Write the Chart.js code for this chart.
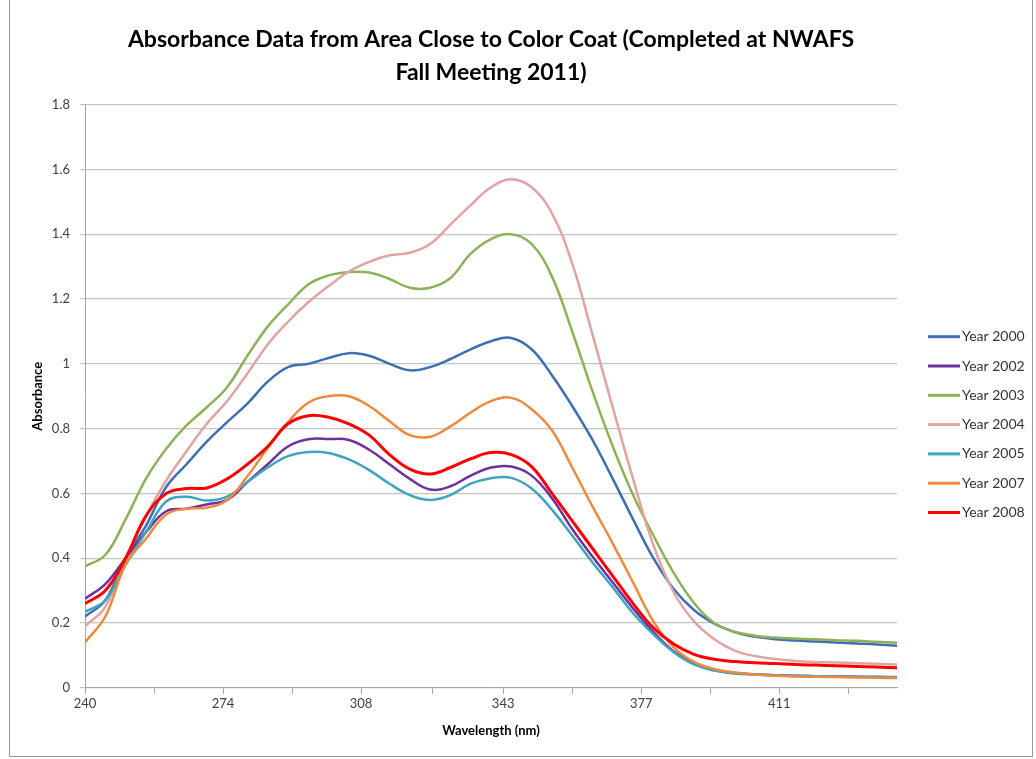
<!DOCTYPE html>
<html lang="en">
<head>
    <meta charset="UTF-8">
    <title>Absorbance Data</title>
    <style>
        body {
            margin: 0;
            background: #fff;
        }
        #frame {
            position: absolute;
            left: 9px;
            top: -2px;
            width: 1022px;
            height: 757px;
            border: 1px solid #9a9a9a;
        }
        #chart-container {
            position: absolute;
            left: 0;
            top: 0;
            width: 1036px;
            height: 759px;
        }
    </style>
    <script src="https://cdn.jsdelivr.net/npm/chart.js"></script>
</head>
<body>
    <div id="frame"></div>
    <div id="chart-container">
        <canvas id="lineChart" width="1036" height="759"></canvas>
    </div>

    <script>
        // wavelengths (nm)
        const wavelengths = [240, 245, 250, 255, 260, 265, 270, 275, 280, 285, 290, 295, 300, 305, 310,
            315, 320, 325, 330, 335, 340, 345, 350, 355, 360, 365, 370, 375, 380, 385, 390, 395, 400,
            405, 410, 415, 420, 425, 430, 435, 440];

        const seriesNames = ['Year 2000', 'Year 2002', 'Year 2003', 'Year 2004', 'Year 2005', 'Year 2007', 'Year 2008'];

        const year2000 = [0.22, 0.27, 0.40, 0.50, 0.62, 0.69, 0.76, 0.82, 0.877, 0.945, 0.99, 1.0, 1.018, 1.033, 1.025,
            1.0, 0.98, 0.99, 1.015, 1.045, 1.07, 1.08, 1.045, 0.965, 0.87, 0.765, 0.645, 0.52, 0.40, 0.305, 0.24, 0.198, 0.172,
            0.158, 0.15, 0.146, 0.143, 0.14, 0.137, 0.134, 0.13];
        const year2002 = [0.275, 0.32, 0.40, 0.48, 0.545, 0.553, 0.566, 0.58, 0.635, 0.69, 0.745, 0.767, 0.768, 0.765, 0.735,
            0.69, 0.645, 0.612, 0.622, 0.655, 0.68, 0.683, 0.655, 0.585, 0.49, 0.405, 0.325, 0.245, 0.172, 0.112, 0.075, 0.055, 0.046,
            0.042, 0.039, 0.037, 0.036, 0.035, 0.034, 0.033, 0.032];
        const year2003 = [0.375, 0.41, 0.52, 0.645, 0.738, 0.81, 0.866, 0.928, 1.025, 1.115, 1.183, 1.245, 1.273, 1.283, 1.282,
            1.262, 1.235, 1.235, 1.265, 1.34, 1.385, 1.40, 1.37, 1.27, 1.10, 0.915, 0.745, 0.595, 0.47, 0.355, 0.262, 0.2, 0.173,
            0.161, 0.155, 0.152, 0.150, 0.147, 0.145, 0.142, 0.139];
        const year2004 = [0.19, 0.25, 0.40, 0.53, 0.64, 0.73, 0.815, 0.885, 0.97, 1.06, 1.13, 1.19, 1.24, 1.285, 1.315,
            1.335, 1.343, 1.37, 1.43, 1.49, 1.545, 1.57, 1.545, 1.465, 1.31, 1.09, 0.865, 0.645, 0.44, 0.295, 0.205, 0.15, 0.115,
            0.098, 0.089, 0.083, 0.08, 0.078, 0.076, 0.074, 0.072];
        const year2005 = [0.235, 0.27, 0.38, 0.48, 0.575, 0.59, 0.578, 0.59, 0.635, 0.68, 0.715, 0.728, 0.725, 0.705, 0.672,
            0.63, 0.595, 0.58, 0.595, 0.63, 0.647, 0.648, 0.615, 0.55, 0.47, 0.387, 0.31, 0.23, 0.165, 0.11, 0.072, 0.053, 0.044,
            0.041, 0.039, 0.037, 0.036, 0.035, 0.034, 0.034, 0.033];
        const year2007 = [0.14, 0.22, 0.38, 0.46, 0.535, 0.553, 0.556, 0.58, 0.653, 0.74, 0.82, 0.88, 0.90, 0.90, 0.87,
            0.823, 0.78, 0.775, 0.807, 0.85, 0.885, 0.895, 0.86, 0.795, 0.68, 0.56, 0.445, 0.325, 0.205, 0.125, 0.08, 0.058, 0.047,
            0.041, 0.037, 0.035, 0.034, 0.033, 0.032, 0.031, 0.03];
        const year2008 = [0.26, 0.30, 0.40, 0.53, 0.60, 0.615, 0.617, 0.645, 0.69, 0.745, 0.815, 0.84, 0.835, 0.815, 0.78,
            0.72, 0.675, 0.66, 0.68, 0.707, 0.726, 0.72, 0.683, 0.60, 0.515, 0.43, 0.345, 0.26, 0.185, 0.135, 0.103, 0.088, 0.081,
            0.077, 0.075, 0.072, 0.07, 0.068, 0.066, 0.064, 0.062];

        // axis ticks
        const xTickValues = [240, 274, 308, 343, 377, 411];
        const xMinorTicks = [257, 291, 325.5, 360, 394, 428];
        const yTickValues = [0, 0.2, 0.4, 0.6, 0.8, 1, 1.2, 1.4, 1.6, 1.8];

        const seriesValues = [year2000, year2002, year2003, year2004, year2005, year2007, year2008];
        const seriesColors = ['#3f6fb3', '#7030a0', '#8db356', '#e2a3a3', '#3ea5bd', '#ee8a3c', '#ff0000'];

        const fontFamily = 'Lato, "Open Sans", sans-serif';

        // legend drawn at right of the plot area
        const sideLegend = {
            id: 'sideLegend',
            afterDraw(chart) {
                const ctx = chart.ctx;
                const area = chart.chartArea;
                const x0 = area.right + 31;
                const y0 = area.top + 232;
                ctx.save();
                ctx.font = '14px ' + fontFamily;
                ctx.textBaseline = 'middle';
                chart.data.datasets.forEach((ds, i) => {
                    const y = y0 + i * 29.3;
                    ctx.strokeStyle = ds.borderColor;
                    ctx.lineWidth = 3;
                    ctx.beginPath();
                    ctx.moveTo(x0, y);
                    ctx.lineTo(x0 + 32, y);
                    ctx.stroke();
                    ctx.fillStyle = '#333';
                    ctx.fillText(ds.label, x0 + 34, y);
                });
                ctx.restore();
            }
        };

        function createLineChart() {
            const ctx = document.getElementById('lineChart').getContext('2d');
            const datasets = seriesNames.map((name, i) => ({
                label: name,
                data: wavelengths.map((w, j) => ({ x: w, y: seriesValues[i][j] })),
                borderColor: seriesColors[i],
                backgroundColor: seriesColors[i],
                borderWidth: i === 6 ? 3 : 2.5,
                pointRadius: 0,
                tension: 0.4,
                order: seriesNames.length - i
            }));

            new Chart(ctx, {
                type: 'line',
                data: { datasets: datasets },
                plugins: [sideLegend],
                options: {
                    responsive: false,
                    animation: false,
                    layout: {
                        padding: { left: 30, right: 139, top: 0, bottom: 20 }
                    },
                    plugins: {
                        legend: { display: false },
                        tooltip: { enabled: false },
                        title: {
                            display: true,
                            fullSize: false,
                            text: ['Absorbance Data from Area Close to Color Coat (Completed at NWAFS', 'Fall Meeting 2011)'],
                            color: '#000',
                            font: { family: fontFamily, size: 23, weight: 'bold', lineHeight: 1.45 },
                            padding: { top: 23, bottom: 15 }
                        }
                    },
                    scales: {
                        x: {
                            type: 'linear',
                            min: 240,
                            max: 440,
                            afterBuildTicks(axis) {
                                axis.ticks = xTickValues.concat(xMinorTicks)
                                    .sort((a, b) => a - b)
                                    .map(v => ({ value: v }));
                            },
                            ticks: {
                                autoSkip: false,
                                maxRotation: 0,
                                color: '#404040',
                                font: { family: fontFamily, size: 13 },
                                padding: 2,
                                callback(value) {
                                    const k = xTickValues.indexOf(value);
                                    return k >= 0 ? String(xTickValues[k]) : '';
                                }
                            },
                            grid: {
                                drawOnChartArea: false,
                                tickLength: 6,
                                color: '#a6a6a6'
                            },
                            border: { color: '#a6a6a6', width: 1 },
                            title: {
                                display: true,
                                text: 'Wavelength (nm)',
                                color: '#000',
                                font: { family: fontFamily, size: 13, weight: 'bold' },
                                padding: { top: 10, bottom: 0 }
                            }
                        },
                        y: {
                            min: 0,
                            max: 1.8,
                            afterBuildTicks(axis) {
                                axis.ticks = yTickValues.map(v => ({ value: v }));
                            },
                            afterFit(axis) {
                                axis.width = 55;
                            },
                            ticks: {
                                color: '#404040',
                                font: { family: fontFamily, size: 13 },
                                padding: 10,
                                callback: v => String(v)
                            },
                            grid: {
                                color: '#c4c4c4',
                                lineWidth: 1.2,
                                tickLength: 5
                            },
                            border: { color: '#a6a6a6', width: 1 },
                            title: {
                                display: true,
                                text: 'Absorbance',
                                color: '#000',
                                font: { family: fontFamily, size: 13, weight: 'bold' },
                                padding: { top: 0, bottom: 6 }
                            }
                        }
                    }
                }
            });
        }

        createLineChart();
    </script>
</body>
</html>
